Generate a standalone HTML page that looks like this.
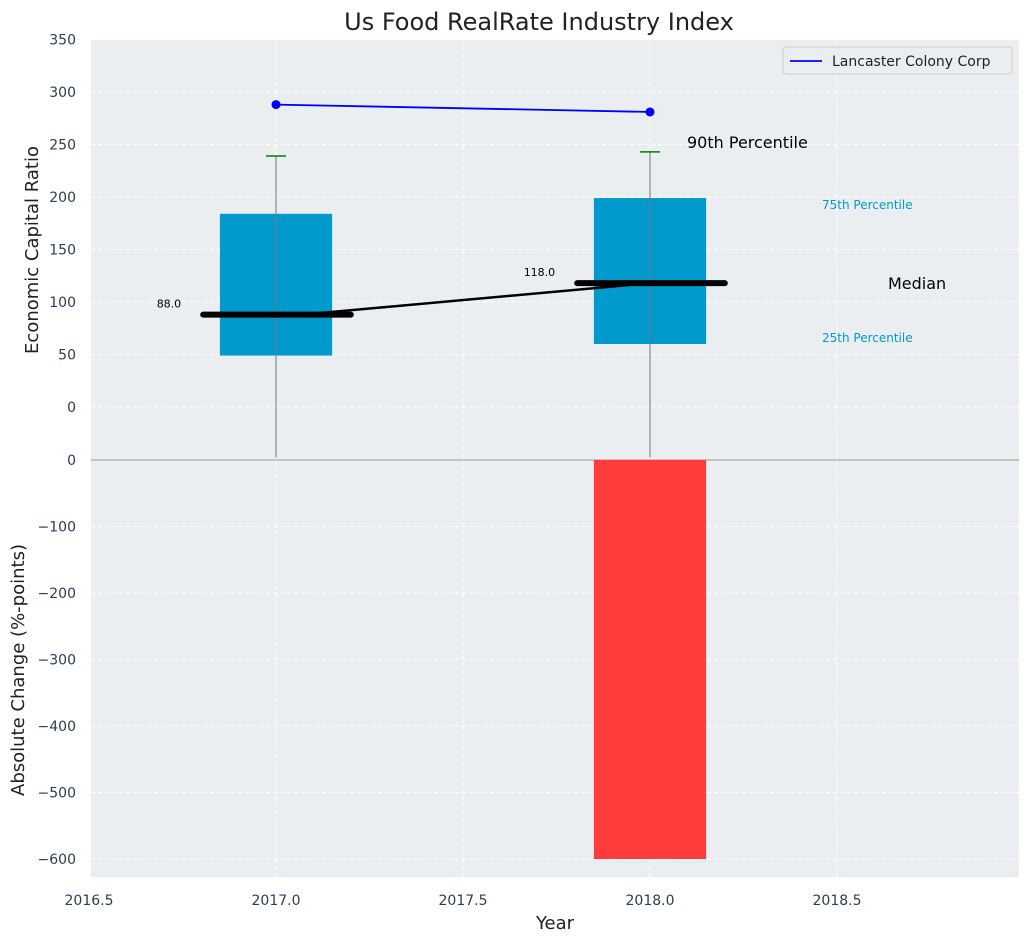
<!DOCTYPE html>
<html><head><meta charset="utf-8"><style>
body{margin:0;background:#fff;font-family:"Liberation Sans","DejaVu Sans",sans-serif}
text{font-family:"DejaVu Sans","Liberation Sans",sans-serif}
</style></head><body>
<svg id="c" width="1029" height="942"></svg>
<script>
const years=[2017,2018];
const p25=[49,60];
const p75=[184,199];
const p90=[239,243];
const lowW=[-48,-48];
const medians=[88,118];
const company=[288,281];
const changes=[0,-600];
const xTicks=[2016.5,2017,2017.5,2018,2018.5];
const topTicks=[0,50,100,150,200,250,300,350];
const botTicks=[0,-100,-200,-300,-400,-500,-600];

const NS="http://www.w3.org/2000/svg";
const svg=document.getElementById('c');
const L=91,R=1019,T1=40,B1=460,T2=460,B2=877;
const X=v=>89+(v-2016.5)*374;
const Y1=v=>407-v*1.05;
function Yb(v){return 460-v*0.665;}
function el(t,a,txt){const e=document.createElementNS(NS,t);for(const k in a)e.setAttribute(k,a[k]);if(txt!==undefined)e.textContent=txt;svg.appendChild(e);return e;}

let e;
e=el('rect',{x:L,y:T1,width:R-L,height:B2-T1,fill:'#ebeef0'});


xTicks.forEach(t=>{e=el('line',{x1:X(t),x2:X(t),y1:T1,y2:B2,stroke:'#fff','stroke-dasharray':'4,3'});


e=el('text',{x:X(t),y:905,'text-anchor':'middle','font-size':14,fill:'#2c3e50'},t.toFixed(1));

});
topTicks.forEach(t=>{e=el('line',{x1:L,x2:R,y1:Y1(t),y2:Y1(t),stroke:'#fff','stroke-dasharray':'4,3'});


e=el('text',{x:76,y:Y1(t)+5,'text-anchor':'end','font-size':14,fill:'#2c3e50'},t);

});
botTicks.forEach(t=>{e=el('line',{x1:L,x2:R,y1:Yb(t),y2:Yb(t),stroke:'#fff','stroke-dasharray':'4,3'});


e=el('text',{x:76,y:Yb(t)+5,'text-anchor':'end','font-size':14,fill:'#2c3e50'},t===0?'0':'\u2212'+Math.abs(t));

});
e=el('line',{x1:L,x2:R,y1:460,y2:460,stroke:'#aaa','stroke-width':1.2});



years.forEach((y,i)=>{
 const hw=0.15*374;
 e=el('rect',{x:X(y)-hw,y:Y1(p75[i]),width:2*hw,height:Y1(p25[i])-Y1(p75[i]),fill:'#009acd'});
 
 
 e=el('line',{x1:X(y),x2:X(y),y1:Y1(lowW[i]),y2:Y1(p90[i]),stroke:'#777','stroke-width':1});
 
 
 e=el('line',{x1:X(y)-10,x2:X(y)+10,y1:Y1(p90[i]),y2:Y1(p90[i]),stroke:'green','stroke-width':1.5});
 
 
 e=el('line',{x1:X(y)-0.2*374+2,x2:X(y)+0.2*374,y1:Y1(medians[i]),y2:Y1(medians[i]),stroke:'#000','stroke-width':6,'stroke-linecap':'round'});
 
 
 e=el('text',{x:X(y)-0.2*374-20,y:Y1(medians[i])-7,'text-anchor':'end','font-size':11,fill:'#000'},medians[i].toFixed(1));
 
 
 if(changes[i]!==0){e=el('rect',{x:X(y)-hw,y:Yb(0),width:2*hw,height:Yb(changes[i])-Yb(0),fill:'#ff3b3b'});
 
 }
});
e=el('line',{x1:X(years[0])+0.07*374,y1:Y1(medians[0]),x2:X(years[1]),y2:Y1(medians[1]),stroke:'#000','stroke-width':2.5});


e=el('polyline',{points:years.map((y,i)=>X(y)+','+Y1(company[i])).join(' '),fill:'none',stroke:'blue','stroke-width':1.8});


years.forEach((y,i)=>{e=el('circle',{cx:X(y),cy:Y1(company[i]),r:4.5,fill:'blue'});

});

const ann=[['90th Percentile',687,148,16,'#000'],['75th Percentile',822,209,12,'#009acd'],['Median',888,289,16,'#000'],['25th Percentile',822,342,12,'#009acd']];
ann.forEach(a=>{e=el('text',{x:a[1],y:a[2],'font-size':a[3],fill:a[4]},a[0]);

});

e=el('rect',{x:783,y:47,width:229,height:27,fill:'#ebeef0',stroke:'#ccc',rx:3});


e=el('line',{x1:790,x2:822,y1:61,y2:61,stroke:'blue','stroke-width':1.8});


e=el('text',{x:832,y:66,'font-size':14,fill:'#222'},'Lancaster Colony Corp');



e=el('text',{x:539,y:30,'text-anchor':'middle','font-size':24,fill:'#222'},'Us Food RealRate Industry Index');


e=el('text',{x:555,y:929,'text-anchor':'middle','font-size':18,fill:'#222'},'Year');


e=el('text',{x:38,y:250,'text-anchor':'middle','font-size':18,fill:'#222',transform:'rotate(-90 38 250)'},'Economic Capital Ratio');


e=el('text',{x:24,y:670,'text-anchor':'middle','font-size':18,fill:'#222',transform:'rotate(-90 24 670)'},'Absolute Change (%-points)');


</script>
</body></html>
